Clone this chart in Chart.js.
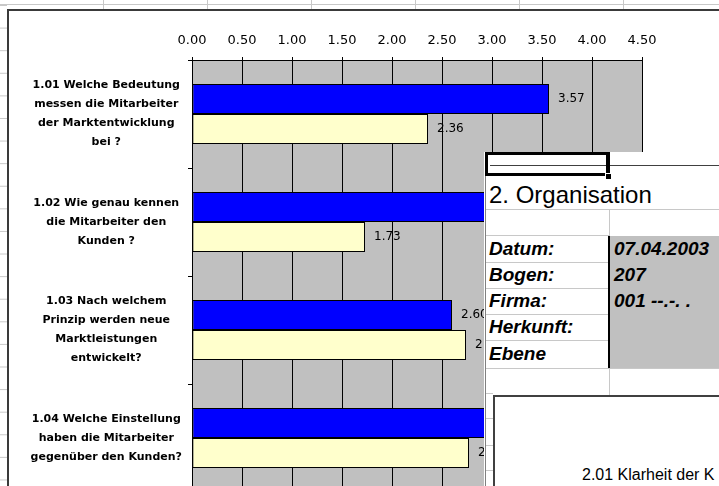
<!DOCTYPE html>
<html>
<head>
<meta charset="utf-8">
<script src="https://cdn.jsdelivr.net/npm/chart.js@4.4.0/dist/chart.umd.min.js"></script>
<style>
  html, body { margin: 0; padding: 0; width: 719px; height: 486px; overflow: hidden; background: #fff; }
  .abs { position: absolute; }
  #sheetTop {
    left: 0; top: 0; width: 719px; height: 9px;
    background:
      linear-gradient(to bottom, transparent 4px, #c8c8c8 4px, #c8c8c8 5px, transparent 5px),
      repeating-linear-gradient(to right, transparent 0, transparent 103px, #c8c8c8 103px, #c8c8c8 104px);
  }
  #sheetLeft {
    left: 0; top: 5px; width: 7px; height: 481px;
    background: linear-gradient(to bottom, #c8c8c8 0, #c8c8c8 1px, transparent 1px) 0 0 / 100% 22.6px repeat-y;
  }
  #frame { left: 7px; top: 9px; width: 760px; height: 540px; border: 2px solid #3a3a3a; background: #fff; }
  #chartBox { left: 0; top: 0; width: 719px; height: 500px; }

  #overlay { left: 484px; top: 152px; width: 235px; height: 334px; background: #fff; overflow: hidden;
             font-family: "Liberation Sans", Arial, sans-serif; color: #000; }
  .gl { position: absolute; background: #c8c8c8; }
  .dk { position: absolute; background: #000; }
  #sel { left: 1px; top: 0; width: 125px; height: 24px; box-sizing: border-box; border: 3px solid #000; border-right-width: 4px; }
  #handle { left: 121px; top: 21px; width: 7px; height: 7px; background: #000; border: 1px solid #fff; box-sizing: border-box; }
  #title { left: 5px; top: 31px; font-size: 24px; line-height: 24px; white-space: nowrap; }
  .row { position: absolute; left: 2px; width: 233px; height: 26px; line-height: 26px;
         font-size: 19px; font-weight: bold; font-style: italic; white-space: nowrap; }
  .row .lab { position: absolute; left: 3px; }
  .row .val { position: absolute; left: 128px; }
  #chart2 { left: 9px; top: 243px; width: 260px; height: 120px; border-left: 2px solid #404040; border-top: 2px solid #404040; background: #fff; }
  #chart2 span { position: absolute; left: 87px; top: 69px; font-size: 16px; line-height: 18px; white-space: nowrap; }
</style>
</head>
<body>
<div id="sheetTop" class="abs"></div>
<div id="sheetLeft" class="abs"></div>
<div id="frame" class="abs"></div>
<div id="chartBox" class="abs"><canvas id="bars"></canvas></div>

<div id="overlay" class="abs">
  <div class="gl" style="left:1px;top:24px;width:1px;height:310px;background:#808080"></div>
  <div class="dk" style="left:6px;top:13px;width:229px;height:1px;background:#404040"></div>
  <div class="gl" style="left:2px;top:57px;width:233px;height:1px"></div>
  <div class="gl" style="left:125px;top:57px;width:1px;height:27px"></div>
  <div class="gl" style="left:126px;top:84px;width:109px;height:132px;background:#c0c0c0"></div>
  <div class="gl" style="left:2px;top:83px;width:123px;height:1px"></div>
  <div class="gl" style="left:2px;top:110px;width:123px;height:1px"></div>
  <div class="gl" style="left:2px;top:136px;width:123px;height:1px"></div>
  <div class="gl" style="left:2px;top:162px;width:123px;height:1px"></div>
  <div class="gl" style="left:2px;top:188px;width:123px;height:1px"></div>
  <div class="gl" style="left:2px;top:216px;width:233px;height:1px"></div>
  <div class="dk" style="left:124px;top:84px;width:2px;height:132px"></div>
  <div class="gl" style="left:125px;top:217px;width:1px;height:26px"></div>
  <div class="gl" style="left:2px;top:241px;width:7px;height:1px"></div>
  <div class="gl" style="left:2px;top:266px;width:7px;height:1px"></div>
  <div class="gl" style="left:2px;top:293px;width:7px;height:1px"></div>
  <div class="gl" style="left:2px;top:318px;width:7px;height:1px"></div>

  <div id="sel" class="abs"></div>
  <div id="handle" class="abs"></div>
  <div id="title" class="abs">2. Organisation</div>

  <div class="row" style="top:84px"><span class="lab">Datum:</span><span class="val">07.04.2003</span></div>
  <div class="row" style="top:110px"><span class="lab">Bogen:</span><span class="val">207</span></div>
  <div class="row" style="top:136px"><span class="lab">Firma:</span><span class="val">001 --.-. .</span></div>
  <div class="row" style="top:162px"><span class="lab">Herkunft:</span></div>
  <div class="row" style="top:188px;height:28px;line-height:28px"><span class="lab">Ebene</span></div>

  <div id="chart2" class="abs"><span>2.01 Klarheit der K</span></div>
</div>

<script>
const categories = [
  ["1.01 Welche Bedeutung", "messen die Mitarbeiter", "der Marktentwicklung", "bei ?"],
  ["1.02 Wie genau kennen", "die Mitarbeiter den", "Kunden ?"],
  ["1.03 Nach welchem", "Prinzip werden neue", "Marktleistungen", "entwickelt?"],
  ["1.04 Welche Einstellung", "haben die Mitarbeiter", "gegenüber den Kunden?"]
];
// blue bars of 1.02 and 1.04 are hidden under the second sheet, values estimated
const blueValues = [3.57, 3.10, 2.60, 3.20];
const yellowValues = [2.36, 1.73, 2.74, 2.77];
const xTicks = [0, 0.5, 1, 1.5, 2, 2.5, 3, 3.5, 4, 4.5];

const plotBg = {
  id: "plotBg",
  beforeDraw(chart) {
    const { ctx, chartArea: a } = chart;
    ctx.save();
    ctx.fillStyle = "#c0c0c0";
    ctx.fillRect(a.left, a.top, a.right - a.left, a.bottom - a.top);
    ctx.restore();
  },
};

const valueLabels = {
  id: "valueLabels",
  afterDatasetsDraw(chart) {
    const ctx = chart.ctx;
    ctx.save();
    ctx.font = "12px 'DejaVu Sans'";
    ctx.fillStyle = "#000";
    ctx.textAlign = "left";
    ctx.textBaseline = "middle";
    chart.data.datasets.forEach((ds, i) => {
      chart.getDatasetMeta(i).data.forEach((bar, j) => {
        ctx.fillText(ds.data[j].toFixed(2), bar.x + 9, bar.y);
      });
    });
    ctx.restore();
  },
};

let ctx = document.getElementById("bars").getContext("2d");
new Chart(ctx, {
  type: "bar",
  data: {
    labels: categories,
    datasets: [
      {
        data: blueValues,
        backgroundColor: "#0000ff",
        borderColor: "#000",
        borderWidth: 1,
        borderSkipped: false,
        categoryPercentage: 0.556,
        barPercentage: 1,
      },
      {
        data: yellowValues,
        backgroundColor: "#ffffcc",
        borderColor: "#000",
        borderWidth: 1,
        borderSkipped: false,
        categoryPercentage: 0.556,
        barPercentage: 1,
      },
    ],
  },
  options: {
    indexAxis: "y",
    responsive: true,
    maintainAspectRatio: false,
    animation: false,
    layout: { padding: { left: 0, right: 77, top: 0, bottom: 8 } },
    plugins: { legend: { display: false }, tooltip: { enabled: false } },
    scales: {
      x: {
        position: "top",
        min: 0,
        max: 4.5,
        afterBuildTicks: (s) => { s.ticks = xTicks.map((v) => ({ value: v })); },
        ticks: {
          callback: (v) => Number(v).toFixed(2),
          font: { family: "DejaVu Sans", size: 13 },
          color: "#000",
          padding: 9,
          maxRotation: 0,
        },
        grid: { color: "#000", lineWidth: 1, tickLength: 3 },
        border: { color: "#000" },
        afterFit: (s) => { s.height = 60; s.paddingLeft = 0; s.paddingRight = 0; },
      },
      y: {
        grid: { drawOnChartArea: false, color: "#000", tickLength: 4 },
        border: { color: "#000" },
        ticks: {
          crossAlign: "center",
          font: { family: "DejaVu Sans", size: 11, weight: "bold", lineHeight: "19px" },
          color: "#000",
          padding: 6,
        },
        afterFit: (s) => { s.width = 192; s.paddingTop = 0; s.paddingBottom = 0; },
      },
    },
  },
  plugins: [plotBg, valueLabels],
});
</script>
</body>
</html>
